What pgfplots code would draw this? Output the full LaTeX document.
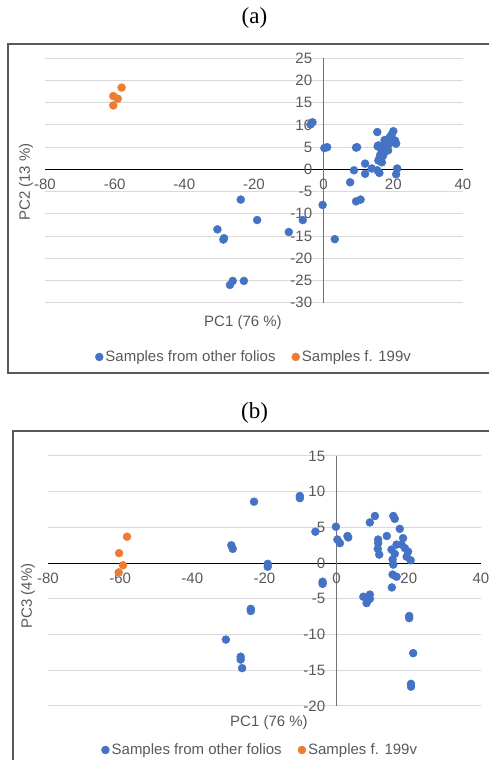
\documentclass[border=0pt]{standalone}
\usepackage{fontspec}
\setmainfont{Liberation Sans}
\newfontfamily\titleserif{Liberation Serif}
\usepackage{pgfplots}
\pgfplotsset{compat=1.18}
\definecolor{sblue}{HTML}{4472C4}
\definecolor{sorange}{HTML}{ED7D31}
\definecolor{gridc}{HTML}{D9D9D9}
\definecolor{tickc}{HTML}{595959}
\definecolor{framec}{HTML}{595959}
\definecolor{yaxc}{HTML}{737373}

\pgfplotsset{
  pcastyle/.style={
    scale only axis,
    axis lines=middle,
    axis line style={-},
    x axis line style={black, line width=1.2pt},
    y axis line style={yaxc, line width=1.4pt},
    xmin=-80, xmax=40,
    xtick={-80,-60,-40,-20,0,20,40},
    ymajorgrids, xmajorgrids=false,
    major grid style={gridc, line width=1pt},
    major tick length=0pt,
    hide obscured x ticks=false,
    hide obscured y ticks=false,
    /pgf/number format/assume math mode=true,
    tick label style={font=\fontsize{15}{18}\selectfont, text=tickc},
    xticklabel style={yshift=-6pt},
    yticklabel style={xshift=-8pt},
    clip=false,
    legend columns=2,
    legend style={draw=none, fill=none, font=\fontsize{15}{18}\selectfont, text=tickc,
      /tikz/every even column/.append style={column sep=14pt},
      nodes={inner sep=2pt}},
    legend image code/.code={\fill[##1] (0pt,0pt) circle (4pt);},
  },
  blues/.style={only marks, mark=*, mark size=4pt, color=sblue, mark options={draw=sblue, fill=sblue}},
  oranges/.style={only marks, mark=*, mark size=4pt, color=sorange, mark options={draw=sorange, fill=sorange}},
}

\begin{document}
\begin{tikzpicture}
\useasboundingbox (0pt,0pt) rectangle (489pt,760pt);
% frames
\draw[framec, line width=1.3pt] (8pt,387pt) rectangle (500pt,716pt);
\draw[framec, line width=1.3pt] (13pt,-10pt) rectangle (500pt,329pt);
% titles
\node[font=\titleserif\fontsize{23}{26}\selectfont] at (254.5pt,742pt) {(a)};
\node[font=\titleserif\fontsize{23}{26}\selectfont] at (254.5pt,347pt) {(b)};

% ---------- panel (a)
\begin{axis}[pcastyle, at={(45pt,457.3pt)}, anchor=south west,
  width=418pt, height=244.4pt,
  ymin=-30, ymax=25, ytick={-30,-25,...,25},
  legend style={at={(0.5,-0.222)}, anchor=center}]
\addplot[blues] coordinates {
(-3.8,10.1) (-3.2,10.6) (0.2,4.8) (1.0,5.0) (9.3,4.9) (9.6,5.0)
(15.4,8.4) (20.0,8.6) (19.0,7.3) (18.1,6.2) (15.7,5.4) (20.8,5.8)
(20.5,6.5) (16.2,3.2) (17.6,3.9) (18.5,4.3) (15.7,2.0) (16.7,1.6)
(11.9,1.3) (8.7,-0.2) (11.9,-1.0) (13.8,0.2) (15.4,-0.2) (16.0,-0.8)
(21.1,0.2) (20.8,-1.1) (7.6,-2.9) (17.0,5.5) (18.0,5.0) (19.2,6.0)
(17.5,6.6) (16.5,4.5) (17.0,3.0) (16.0,2.5) (18.5,5.5) (15.5,5.2)
(19.5,7.8) (-23.8,-6.8) (-0.3,-8.0) (9.3,-7.2) (10.6,-6.8)
(-19.1,-11.4) (-6.0,-11.4) (-30.5,-13.5) (-28.8,-15.8) (-28.6,-15.5)
(-10.0,-14.1) (3.2,-15.7) (-26.1,-25.1) (-26.9,-26.0) (-22.9,-25.1)
};
\addlegendentry{Samples from other folios}
\addplot[oranges] coordinates {
(-58.0,18.4) (-60.4,16.5) (-59.1,15.9) (-60.4,14.4)
};
\addlegendentry{Samples f. 199v}
\end{axis}
\node[rotate=90, font=\fontsize{15}{18}\selectfont, text=tickc] at (26pt,578pt) {PC2 (13 \%)};
\node[font=\fontsize{15}{18}\selectfont, text=tickc] at (243pt,437pt) {PC1 (76 \%)};

% ---------- panel (b)
\begin{axis}[pcastyle, at={(48pt,54pt)}, anchor=south west,
  width=433pt, height=250pt,
  ymin=-20, ymax=15, ytick={-20,-15,...,15},
  legend style={at={(0.49,-0.176)}, anchor=center}]
\addplot[blues] coordinates {
(-22.9,8.6) (-10.2,9.4) (-10.2,9.1) (-29.2,2.5) (-28.8,2.0)
(-19.1,-0.1) (-19.1,-0.5) (-5.9,4.4) (-0.2,5.1) (0.2,3.3) (0.9,2.8)
(3.0,3.8) (3.2,3.6) (-3.9,-2.6) (-3.9,-2.9) (10.6,6.6) (9.2,5.7)
(15.7,6.6) (16.1,6.2) (17.5,4.8) (13.9,3.8) (11.5,3.3) (11.5,2.8)
(11.4,2.0) (11.8,1.2) (18.4,3.5) (15.2,1.9) (16.6,2.6) (18.0,2.6)
(18.9,2.1) (19.8,1.6) (19.4,0.9) (20.5,0.4) (16.1,1.3) (15.5,0.5)
(15.7,-0.2) (15.5,-1.6) (16.6,-1.9) (15.3,-3.4) (7.4,-4.7) (9.2,-4.4)
(9.2,-5.0) (8.3,-5.6) (-23.8,-6.4) (-23.8,-6.7) (20.1,-7.4) (20.1,-7.7)
(-30.7,-10.7) (-26.6,-13.1) (-26.6,-13.5) (-26.2,-14.7) (21.2,-12.6)
(20.6,-16.9) (20.6,-17.3)
};
\addlegendentry{Samples from other folios}
\addplot[oranges] coordinates {
(-58.1,3.7) (-60.3,1.4) (-59.2,-0.3) (-60.4,-1.3)
};
\addlegendentry{Samples f. 199v}
\end{axis}
\node[rotate=90, font=\fontsize{15}{18}\selectfont, text=tickc] at (28pt,164pt) {PC3 (4\%)};
\node[font=\fontsize{15}{18}\selectfont, text=tickc] at (269pt,37pt) {PC1 (76 \%)};
\end{tikzpicture}
\end{document}
